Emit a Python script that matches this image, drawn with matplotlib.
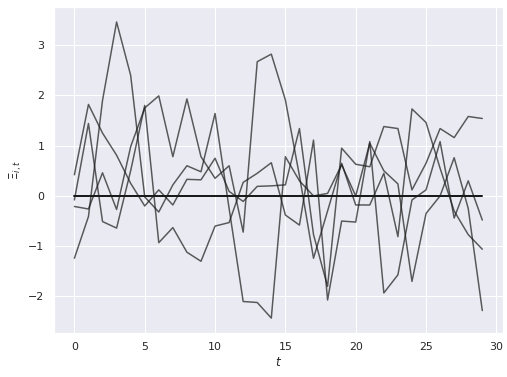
import matplotlib
matplotlib.use('Agg')
import matplotlib.pyplot as plt
import numpy as np
import seaborn as sns

t = np.arange(30)

# four sample paths
xi_a = [0.42, 1.82, 1.25, 0.81, 0.25, -0.2, 0.12, -0.18, 0.33, 0.32,
        0.75, 0.09, -0.11, 0.19, 0.2, 0.22, 1.34, -0.77, -1.8, 0.95,
        0.63, 0.58, 1.38, 1.34, 0.12, 0.65, 1.34, 1.16, 1.58, 1.54]
xi_b = [-0.08, 1.44, -0.51, -0.64, 0.5, 1.8, -0.93, -0.63, -1.12, -1.3,
        -0.6, -0.53, 0.27, 0.45, 0.66, -0.38, -0.58, 1.11, -2.07, -0.5,
        -0.52, 1.08, -1.93, -1.57, -0.08, 0.12, 1.08, -0.44, 0.3, -0.48]
xi_c = [-0.21, -0.26, 0.46, -0.27, 0.98, 1.75, 1.99, 0.78, 1.93, 0.78,
        0.35, 0.6, -0.72, 2.67, 2.82, 1.91, 0.4, -1.24, -0.3, 0.65,
        -0.18, -0.18, 0.45, -0.81, 1.73, 1.46, 0.55, -0.3, -0.77, -1.06]
xi_d = [-1.24, -0.41, 1.9, 3.46, 2.4, -0.02, -0.32, 0.22, 0.6, 0.48,
        1.64, -0.25, -2.1, -2.12, -2.43, 0.78, 0.3, 0.0, 0.05, 0.62,
        0.0, 1.05, 0.5, 0.24, -1.7, -0.35, 0.0, 0.76, -0.25, -2.28]
mean_line = np.zeros(30)

sns.set_theme(style='darkgrid')

fig = plt.figure(figsize=(507 / 72, 377 / 72), dpi=72)
ax = fig.add_axes([0.1065, 0.117, 0.885, 0.864])

for xi in [xi_a, xi_b, xi_c, xi_d]:
    ax.plot(t, xi, color='k', alpha=0.7, lw=1.5)
ax.plot(t, mean_line, color='k', lw=2)

ax.set_xlabel('$t$')
ax.set_ylabel(r'$\Xi_{i,t}$')

fig.savefig('out.png', dpi=72)
